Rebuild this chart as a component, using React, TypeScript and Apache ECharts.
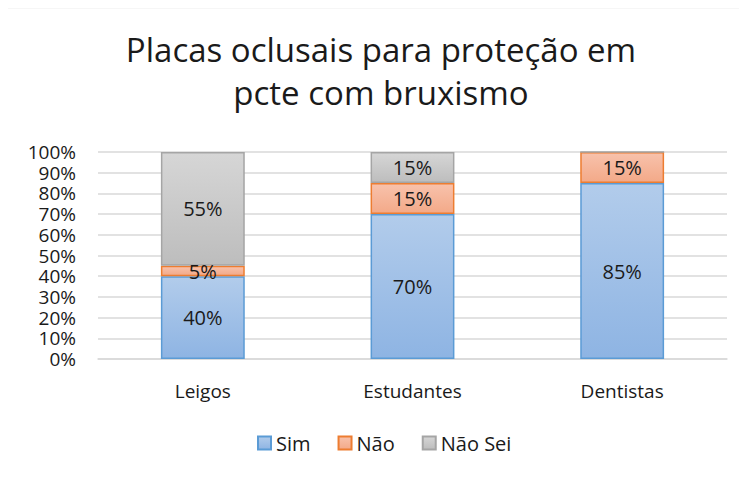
import React, { useEffect, useRef } from "react";
import * as echarts from "echarts";

const categories = ["Leigos", "Estudantes", "Dentistas"];
const simValues = [40, 70, 85];
const naoValues = [5, 15, 15];
const naoSeiValues = [55, 15, 0];
const yTicks = [0, 10, 20, 30, 40, 50, 60, 70, 80, 90, 100];
const titleLines = ["Placas oclusais para proteção em", "pcte com bruxismo"];

const FONT = "'Open Sans', 'Noto Sans', sans-serif";
const TXT = "#1a1a1a";

const grad = (a: string, b: string) =>
  new echarts.graphic.LinearGradient(0, 0, 0, 1, [
    { offset: 0, color: a },
    { offset: 1, color: b },
  ]);

export default function App() {
  const ref = useRef<HTMLDivElement>(null);
  useEffect(() => {
    if (!ref.current) return;
    const chart = echarts.init(ref.current, null, { renderer: "svg" });
    const label = (show: boolean) => ({
      show,
      position: "inside",
      formatter: (p: any) => (p.value > 0 ? p.value + "%" : ""),
      fontFamily: FONT,
      fontSize: 20,
      lineHeight: 20,
      color: TXT,
    });
    chart.setOption({
      animation: false,
      backgroundColor: "#ffffff",
      title: {
        text: titleLines.join("\n"),
        left: 376,
        textAlign: "center",
        top: 23,
        textStyle: {
          fontFamily: FONT,
          fontSize: 33,
          fontWeight: "normal",
          color: TXT,
          lineHeight: 43,
        },
      },
      graphic: [
        { type: "line", shape: { x1: 5.5, y1: 7.5, x2: 747, y2: 7.5 }, style: { stroke: "#d9d9d9", lineWidth: 1.5 } },
        { type: "line", shape: { x1: 5.5, y1: 7.5, x2: 5.5, y2: 478 }, style: { stroke: "#d9d9d9", lineWidth: 1.5 } },
      ],
      legend: {
        bottom: 20,
        left: 252,
        itemWidth: 13,
        itemHeight: 13,
        itemGap: 27,
        icon: "rect",
        textStyle: { fontFamily: FONT, fontSize: 20, color: TXT, padding: [0, 0, 0, 0] },
        data: ["Sim", "Não", "Não Sei"],
      },
      grid: { left: 98, right: 20, top: 152, bottom: 119, containLabel: false },
      xAxis: {
        type: "category",
        data: categories,
        axisLine: { lineStyle: { color: "#d9d9d9", width: 1.5 } },
        axisTick: { show: false },
        axisLabel: { fontFamily: FONT, fontSize: 19, color: TXT, margin: 22 },
      },
      yAxis: {
        type: "value",
        min: 0,
        max: 100,
        interval: 10,
        axisLabel: {
          fontFamily: FONT,
          fontSize: 19,
          lineHeight: 17,
          color: TXT,
          margin: 22,
          formatter: (v: number) => (yTicks.includes(v) ? v + "%" : ""),
        },
        splitLine: { lineStyle: { color: "#d9d9d9", width: 1.5 } },
        axisLine: { show: false },
        axisTick: { show: false },
      },
      series: [
        {
          name: "Sim",
          type: "bar",
          stack: "t",
          barWidth: "40%",
          data: simValues,
          itemStyle: { color: grad("#b2cceb", "#8eb4e3"), borderColor: "#5b9bd5", borderWidth: 1.5 },
          label: label(true),
        },
        {
          name: "Não",
          type: "bar",
          stack: "t",
          data: naoValues,
          itemStyle: { color: grad("#f8c2ac", "#f3a988"), borderColor: "#ed7d31", borderWidth: 1.5 },
          label: label(true),
        },
        {
          name: "Não Sei",
          type: "bar",
          stack: "t",
          data: naoSeiValues,
          itemStyle: { color: grad("#d6d6d6", "#bdbdbd"), borderColor: "#a5a5a5", borderWidth: 1.5 },
          label: label(true),
        },
      ],
    });
    return () => chart.dispose();
  }, []);
  return <div ref={ref} style={{ width: 747, height: 478, margin: -8 }} />;
}
